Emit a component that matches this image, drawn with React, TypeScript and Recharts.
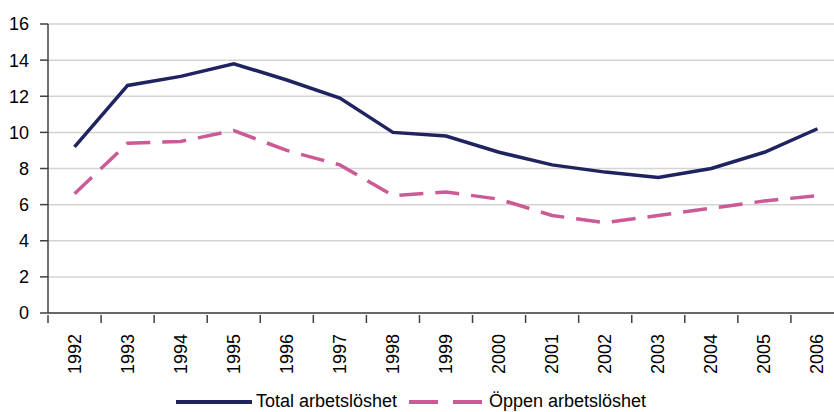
import React from 'react';
import { LineChart, Line, XAxis, YAxis, CartesianGrid, Legend } from 'recharts';

const years = ['1992', '1993', '1994', '1995', '1996', '1997', '1998', '1999', '2000', '2001', '2002', '2003', '2004', '2005', '2006'];
const total = [9.2, 12.6, 13.1, 13.8, 12.9, 11.9, 10.0, 9.8, 8.9, 8.2, 7.8, 7.5, 8.0, 8.9, 10.2];
const oppen = [6.6, 9.4, 9.5, 10.1, 9.0, 8.2, 6.5, 6.7, 6.3, 5.4, 5.0, 5.4, 5.8, 6.2, 6.5];
const yTicks = [0, 2, 4, 6, 8, 10, 12, 14, 16];

const data = years.map((year, i) => ({ year, total: total[i], oppen: oppen[i] }));

const NAVY = '#1f2360';
const PINK = '#cc5a96';
const AXIS = '#404040';
const FONT = '"Liberation Sans", Arial, sans-serif';

// layout
const Y_AXIS_W = 48;
const PLOT_W = 796;
const HALF_BAND = PLOT_W / years.length / 2;

const YearTick = (props: any) => {
  const { x, y, payload, index } = props;
  const last = index === years.length - 1;
  return (
    <g>
      <line x1={x - HALF_BAND} y1={y - 8} x2={x - HALF_BAND} y2={y} stroke={AXIS} strokeWidth={1.5} />
      {last && <line x1={x + HALF_BAND} y1={y - 8} x2={x + HALF_BAND} y2={y} stroke={AXIS} strokeWidth={1.5} />}
      <text
        x={0}
        y={0}
        transform={`translate(${x},${y + 11}) rotate(-90)`}
        textAnchor="end"
        dominantBaseline="central"
        fontSize={18}
        fontFamily={FONT}
        fill="#000"
      >
        {payload.value}
      </text>
    </g>
  );
};

const LegendContent = () => (
  <div style={{ display: 'flex', justifyContent: 'center', alignItems: 'center', fontFamily: FONT, fontSize: 18, color: '#000', paddingTop: 3, marginLeft: -24 }}>
    <svg width={82} height={10}>
      <line x1={2} y1={5} x2={78} y2={5} stroke={NAVY} strokeWidth={4} />
    </svg>
    <span style={{ marginRight: 10 }}>Total arbetslöshet</span>
    <svg width={82} height={10}>
      <line x1={2} y1={5} x2={76} y2={5} stroke={PINK} strokeWidth={4} strokeDasharray="29 15" />
    </svg>
    <span>Öppen arbetslöshet</span>
  </div>
);

export default function App() {
  return (
    <div style={{ position: 'absolute', left: 0, top: 0, width: 834, height: 412, overflow: 'hidden', background: '#fff' }}>
      <LineChart width={Y_AXIS_W + PLOT_W + 2} height={412} data={data} margin={{ top: 24, right: 2, bottom: 0, left: 0 }}>
        <CartesianGrid vertical={false} stroke="#d4d4d4" strokeWidth={1.5} />
        <XAxis
          dataKey="year"
          interval={0}
          height={75}
          padding={{ left: HALF_BAND, right: HALF_BAND }}
          tick={<YearTick />}
          tickSize={8}
          axisLine={{ stroke: AXIS, strokeWidth: 1.5 }}
          tickLine={false}
        />
        <YAxis
          domain={[0, 16]}
          ticks={yTicks}
          width={Y_AXIS_W}
          tickSize={8}
          tickMargin={11}
          axisLine={{ stroke: AXIS, strokeWidth: 1.5 }}
          tickLine={{ stroke: AXIS, strokeWidth: 1.5 }}
          tick={{ fontSize: 18, fontFamily: FONT, fill: '#000' }}
        />
        <Legend verticalAlign="bottom" height={24} content={<LegendContent />} />
        <Line type="linear" dataKey="total" stroke={NAVY} strokeWidth={3.5} dot={false} isAnimationActive={false} />
        <Line type="linear" dataKey="oppen" stroke={PINK} strokeWidth={3.5} strokeDasharray="24 12" dot={false} isAnimationActive={false} />
      </LineChart>
    </div>
  );
}
